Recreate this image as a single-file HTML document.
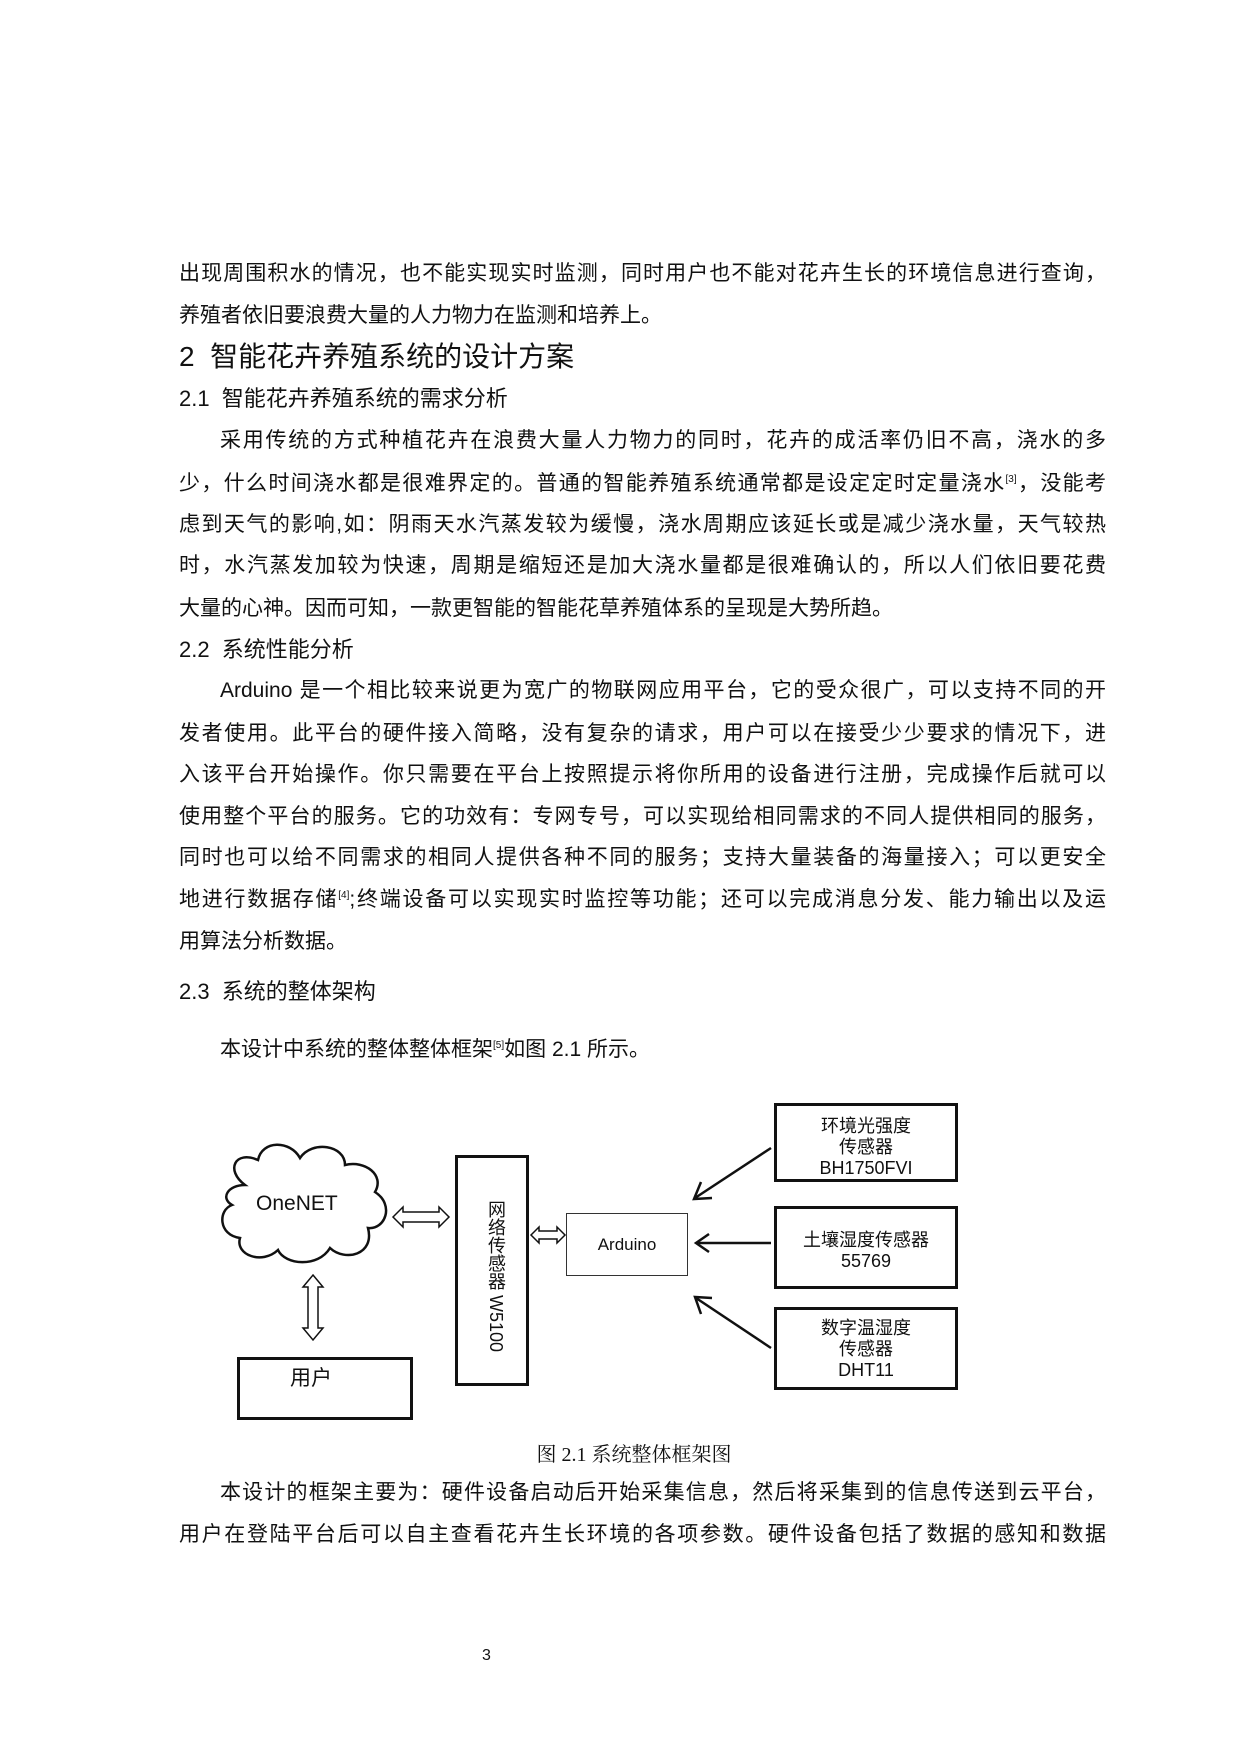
<!DOCTYPE html>
<html><head><meta charset="utf-8"><style>
body{margin:0;background:#fff;}
#p{position:relative;width:1240px;height:1754px;overflow:hidden;font-family:"Liberation Sans","Noto Sans CJK SC",sans-serif;color:#111;}
.l{position:absolute;font-size:21px;line-height:30px;white-space:nowrap;}
.j{text-align:justify;text-align-last:justify;white-space:normal;height:30px;overflow:hidden;}
.h1{font-size:28px;}
.h2{font-size:22px;}
sup{font-size:10px;line-height:0;vertical-align:8px;}
.bx{position:absolute;box-sizing:border-box;border:3px solid #111;text-align:center;font-size:18px;line-height:21px;}
</style></head><body><div id="p">
<div class="l j" style="left:179px;top:259px;width:927px">出现周围积水的情况，也不能实现实时监测，同时用户也不能对花卉生长的环境信息进行查询，</div>
<div class="l" style="left:179px;top:301px">养殖者依旧要浪费大量的人力物力在监测和培养上。</div>
<div class="l h1" style="left:179px;top:342px">2&nbsp; 智能花卉养殖系统的设计方案</div>
<div class="l h2" style="left:179px;top:384px">2.1&nbsp; 智能花卉养殖系统的需求分析</div>
<div class="l j" style="left:220px;top:426px;width:886px">采用传统的方式种植花卉在浪费大量人力物力的同时，花卉的成活率仍旧不高，浇水的多</div>
<div class="l j" style="left:179px;top:469px;width:927px">少，什么时间浇水都是很难界定的。普通的智能养殖系统通常都是设定定时定量浇水<sup>[3]</sup>，没能考</div>
<div class="l j" style="left:179px;top:510px;width:927px">虑到天气的影响,如：阴雨天水汽蒸发较为缓慢，浇水周期应该延长或是减少浇水量，天气较热</div>
<div class="l j" style="left:179px;top:551px;width:927px">时，水汽蒸发加较为快速，周期是缩短还是加大浇水量都是很难确认的，所以人们依旧要花费</div>
<div class="l" style="left:179px;top:594px">大量的心神。因而可知，一款更智能的智能花草养殖体系的呈现是大势所趋。</div>
<div class="l h2" style="left:179px;top:635px">2.2&nbsp; 系统性能分析</div>
<div class="l j" style="left:220px;top:676px;width:886px">Arduino 是一个相比较来说更为宽广的物联网应用平台，它的受众很广，可以支持不同的开</div>
<div class="l j" style="left:179px;top:719px;width:927px">发者使用。此平台的硬件接入简略，没有复杂的请求，用户可以在接受少少要求的情况下，进</div>
<div class="l j" style="left:179px;top:760px;width:927px">入该平台开始操作。你只需要在平台上按照提示将你所用的设备进行注册，完成操作后就可以</div>
<div class="l j" style="left:179px;top:802px;width:927px">使用整个平台的服务。它的功效有：专网专号，可以实现给相同需求的不同人提供相同的服务，</div>
<div class="l j" style="left:179px;top:843px;width:927px">同时也可以给不同需求的相同人提供各种不同的服务；支持大量装备的海量接入；可以更安全</div>
<div class="l j" style="left:179px;top:885px;width:927px">地进行数据存储<sup>[4]</sup>;终端设备可以实现实时监控等功能；还可以完成消息分发、能力输出以及运</div>
<div class="l" style="left:179px;top:927px">用算法分析数据。</div>
<div class="l h2" style="left:179px;top:977px">2.3&nbsp; 系统的整体架构</div>
<div class="l" style="left:220px;top:1035px">本设计中系统的整体整体框架<sup>[5]</sup>如图 2.1 所示。</div>

<svg style="position:absolute;left:0;top:0" width="1240" height="1754">
<g fill="none" stroke="#111" stroke-width="2.5">
<path d="M245,1185 C225,1170 235,1150 258,1160 C262,1140 290,1140 300,1158 C312,1140 345,1145 345,1165 C365,1160 385,1175 375,1192 C395,1205 385,1230 368,1228 C375,1255 345,1262 330,1248 C318,1268 285,1265 278,1250 C262,1265 235,1255 240,1238 C218,1235 218,1210 232,1205 C220,1198 228,1185 245,1185 Z"/>
</g>
<g fill="#fff" stroke="#111" stroke-width="1.5">
<polygon points="393,1217 403,1207 403,1212 439,1212 439,1207 449,1217 439,1227 439,1222 403,1222 403,1227"/>
<polygon points="531,1235 539,1227 539,1231 557,1231 557,1227 565,1235 557,1243 557,1239 539,1239 539,1243"/>
<polygon points="313,1275 323,1287 318,1287 318,1328 323,1328 313,1340 303,1328 308,1328 308,1287 303,1287"/>
</g>
<g stroke="#111" stroke-width="2.5" fill="none">
<line x1="771" y1="1148" x2="695" y2="1198"/><polyline points="701,1182 694,1199 712,1198"/>
<line x1="771" y1="1243" x2="697" y2="1243"/><polyline points="709,1234 696,1243 709,1252"/>
<line x1="771" y1="1348" x2="696" y2="1298"/><polyline points="712,1298 695,1297 701,1314"/>
</g>
</svg>
<div style="position:absolute;left:256px;top:1192px;font-size:21px;line-height:24px">OneNET</div>
<div class="bx" style="left:774px;top:1103px;width:184px;height:79px;padding-top:10px">环境光强度<br>传感器<br>BH1750FVI</div>
<div class="bx" style="left:774px;top:1206px;width:184px;height:83px;padding-top:21px">土壤湿度传感器<br>55769</div>
<div class="bx" style="left:774px;top:1307px;width:184px;height:83px;padding-top:8px">数字温湿度<br>传感器<br>DHT11</div>
<div class="bx" style="left:566px;top:1213px;width:122px;height:63px;border-width:1.5px;border-color:#333;padding-top:20px;font-size:17px">Arduino</div>
<div class="bx" style="left:455px;top:1155px;width:74px;height:231px"></div>
<div style="position:absolute;left:485px;top:1200px;writing-mode:vertical-rl;font-size:18px;line-height:22px">网络传感器 W5100</div>
<div class="bx" style="left:237px;top:1357px;width:176px;height:63px;font-size:21px;text-align:left;padding:8px 0 0 50px">用户</div>

<div class="l" style="left:0;width:1268px;text-align:center;top:1440px;font-family:'Liberation Serif','Noto Serif CJK SC',serif;font-size:20px">图 2.1 系统整体框架图</div>
<div class="l j" style="left:220px;top:1478px;width:886px">本设计的框架主要为：硬件设备启动后开始采集信息，然后将采集到的信息传送到云平台，</div>
<div class="l j" style="left:179px;top:1520px;width:927px">用户在登陆平台后可以自主查看花卉生长环境的各项参数。硬件设备包括了数据的感知和数据</div>
<div class="l" style="left:482px;top:1641px;font-size:16px">3</div>
</div></body></html>
